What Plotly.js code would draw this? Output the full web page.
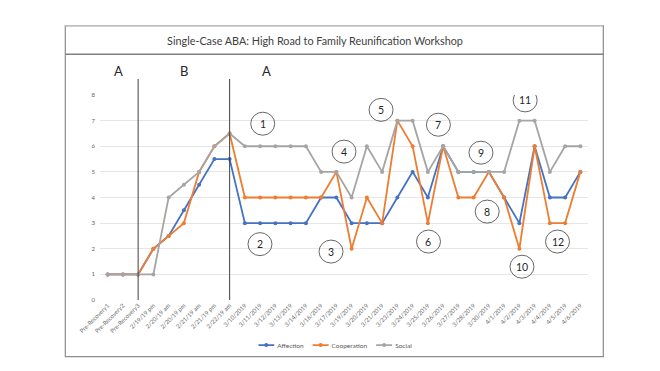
<!DOCTYPE html>
<html>
<head>
<meta charset="utf-8">
<script src="https://cdn.plot.ly/plotly-3.0.1.min.js"></script>
<style>html,body{margin:0;padding:0;background:#fff;}#chart{width:660px;height:371px;}</style>
</head>
<body>
<div id="chart"></div>
<script>
const sessions = ["Pre-Recovery1","Pre-Recovery2","Pre-Recovery3","2/19/19 pm","2/20/19 am","2/20/19 pm","2/21/19 am","2/21/19 pm","2/22/19 am",
  "3/10/2019","3/11/2019","3/12/2019","3/13/2019","3/14/2019","3/16/2019","3/17/2019","3/19/2019","3/20/2019","3/21/2019",
  "3/23/2019","3/24/2019","3/25/2019","3/26/2019","3/27/2019","3/28/2019","3/30/2019","4/1/2019","4/2/2019","4/3/2019",
  "4/4/2019","4/5/2019","4/6/2019"];
const affection   = [1,1,1,2,2.5,3.5,4.5,5.5,5.5, 3,3,3,3,3, 4,4,3,3,3, 4,5,4,6,5, 5,5,4,3,6, 4,4,5];
const cooperation = [1,1,1,2,2.5,3,5,6,6.5, 4,4,4,4,4, 4,5,2,4,3, 7,6,3,6,4, 4,5,4,2,6, 3,3,5];
const social      = [1,1,1,1,4,4.5,5,6,6.5, 6,6,6,6,6, 5,5,4,6,5, 7,7,5,6,5, 5,5,5,7,7, 5,6,6];
const yTicks = [0,1,2,3,4,5,6,7,8];
const phaseLabels = ["A","B","A"];
const phaseChangeAfter = ["Pre-Recovery3","2/22/19 am"];
const calloutLabels = ["1","2","3","4","5","6","7","8","9","10","11","12"];

const font = "Lato, 'Open Sans', sans-serif";
const mk = (name, y, color) => ({
  type: "scatter", mode: "lines+markers", name: name, x: sessions, y: y,
  line: {color: color, width: 1.8}, marker: {color: color, size: 4}
});
const traces = [
  mk("Affection", affection, "#4472C4"),
  mk("Cooperation", cooperation, "#ED7D31"),
  mk("Social", social, "#A5A5A5")
];

// Callout positions (category index, value)
const calloutPos = [[10.17,6.88],[9.99,2.18],[14.65,1.89],[15.5,5.79],[17.93,7.42],[21.04,2.28],
  [21.69,6.84],[24.89,3.45],[24.48,5.75],[27.17,1.30],[27.38,7.79],[29.5,2.28]];

const shapes = [
  {type:"rect", xref:"paper", yref:"paper", x0:-0.0711, x1:1.0314, y0:-0.2766, y1:1.338, line:{color:"#8c8c8c", width:1.2}, layer:"below"},
  {type:"line", xref:"paper", yref:"paper", x0:-0.0711, x1:1.0314, y0:1.338, y1:1.338, line:{color:"#bfbfbf", width:1.5}},
  {type:"line", xref:"paper", yref:"paper", x0:-0.0711, x1:1.0314, y0:1.1985, y1:1.1985, line:{color:"#808080", width:1.5}}
];
phaseChangeAfter.forEach(c => {
  const i = sessions.indexOf(c);
  shapes.push({type:"line", xref:"x", yref:"paper", x0:i, x1:i, y0:0, y1:1.078, line:{color:"#404040", width:1}});
});
calloutPos.forEach(p => {
  shapes.push({type:"circle", xref:"x", yref:"y", xsizemode:"pixel", ysizemode:"pixel",
    xanchor:p[0], yanchor:p[1], x0:-12, x1:12, y0:-11.5, y1:11.5, line:{color:"#404040", width:0.8}, fillcolor:"rgba(255,255,255,0)"});
});

const annotations = [];
const phaseX = [0.68, 5.0, 10.45];
phaseLabels.forEach((t, k) => annotations.push({x: phaseX[k], y: 1.117, xref:"x", yref:"paper", text: t, showarrow:false,
  xanchor:"center", yanchor:"middle", font:{family: font, size: 13, color:"#262626"}}));
calloutLabels.forEach((t, k) => annotations.push({x: calloutPos[k][0], y: calloutPos[k][1], xref:"x", yref:"y", text: t,
  showarrow:false, xanchor:"center", yanchor:"middle", font:{family: font, size: 10.5, color:"#262626"}}));

const layout = {
  width: 660, height: 371,
  margin: {l: 100, r: 72, t: 95, b: 71, pad: 0},
  paper_bgcolor: "#ffffff", plot_bgcolor: "#ffffff",
  font: {family: font, color: "#595959"},
  title: {text: "Single-Case ABA: High Road to Family Reunification Workshop", x: 315/660, xanchor: "center",
    y: 1 - 41/371, yanchor: "middle", xref: "container", yref: "container", font: {family: font, size: 10.8, color: "#404040"}},
  xaxis: {type: "category", range: [-0.5, 31.5], tickangle: -45, tickfont: {size: 6, color: "#666666"},
    showgrid: false, zeroline: false, showline: false, ticks: "", fixedrange: true},
  yaxis: {range: [0, 8], tickvals: yTicks, ticktext: yTicks.map(String), tickfont: {size: 6, color: "#666666"},
    gridcolor: "#e6e6e6", gridwidth: 1, zeroline: false, showline: false, ticks: "", ticklabelstandoff: 4},
  showlegend: true,
  legend: {orientation: "h", x: 0.48, xanchor: "center", y: -0.22, yanchor: "middle",
    font: {size: 6.5, color: "#595959"}, itemwidth: 30, bgcolor: "rgba(0,0,0,0)"},
  shapes: shapes,
  annotations: annotations
};
Plotly.newPlot("chart", traces, layout, {displayModeBar: false, staticPlot: true}).then(gd => {
  // compact legend symbols like the spreadsheet legend
  const leg = gd.querySelector("g.legend");
  if (!leg) return;
  const items = leg.querySelectorAll("g.traces");
  let xPos = 0;
  items.forEach(it => {
    const ln = it.querySelector("g.legendlines path");
    if (ln) ln.setAttribute("d", "M0,0h16");
    it.querySelectorAll("g.legendpoints path").forEach(p => p.setAttribute("transform", "translate(8,0)"));
    const tx = it.querySelector("text.legendtext");
    let w = 30;
    if (tx) { tx.setAttribute("x", 19); w = tx.getComputedTextLength(); }
    const tr = it.getAttribute("transform") || "";
    const m = tr.match(/translate\(([-\d.]+)[ ,]*([-\d.]*)\)/);
    const y = m && m[2] ? m[2] : 0;
    it.setAttribute("transform", "translate(" + xPos + "," + y + ")");
    xPos += 19 + w + 9;
  });
  const total = xPos - 9;
  const lt = leg.getAttribute("transform") || "";
  const m2 = lt.match(/translate\(([-\d.]+)[ ,]*([-\d.]*)\)/);
  const ly = m2 && m2[2] ? m2[2] : 0;
  leg.setAttribute("transform", "translate(" + (335 - total / 2) + "," + ly + ")");
});
</script>
</body>
</html>
